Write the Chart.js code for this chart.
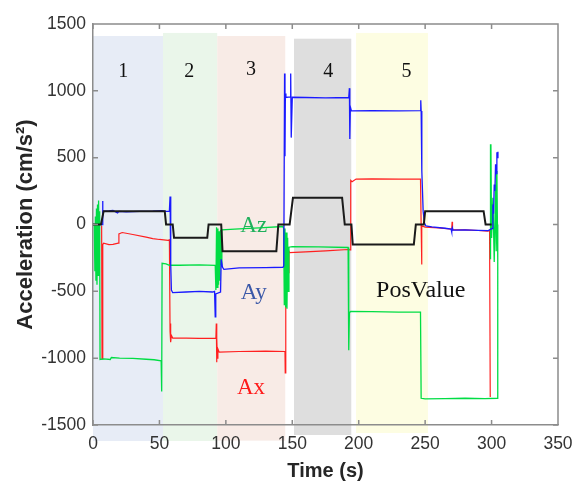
<!DOCTYPE html>
<html>
<head>
<meta charset="utf-8">
<script src="https://cdn.jsdelivr.net/npm/chart.js@4.4.1/dist/chart.umd.min.js"></script>
<style>
  html, body { margin: 0; padding: 0; background: #fff; }
  #wrap { width: 574px; height: 484px; }
</style>
</head>
<body>
<div id="wrap"><canvas id="accChart" width="574" height="484"></canvas></div>
<script>
// --- data: [time (s), acceleration (cm/s^2)] ---
const posTrace = [[0,0],[6,0],[8,100],[54,100],[55,0],[60,0],[61,-100],[86,-100],[87,0],[96.5,0],[97.5,-200],
  [138,-200],[139.5,0],[148,0],[150.5,200],[187.5,200],[189.5,0],[194.5,0],[195.5,-150],[241.5,-150],[243,0],
  [249,0],[250,100],[294,100],[295.5,0],[300,0]];

const ayTrace = [[6,0],[6.8,0],[7.2,175],[7.5,60],[8,100],[12,102],[15,106],[18.5,86],[19.5,98],[25,95],[35,98],
  [45,100],[52,104],[55,98],[57.5,100],[58,210],[58.5,-300],[59,-490],[60,-510],[70,-505],[80,-500],[90,-505],
  [91.5,-500],[92,-690],[92.4,-520],[96,-505],[96.5,-260],[97.5,-320],[98.5,-335],[110,-325],[130,-322],[143,-320],
  [143.6,-310],[144.2,1130],[144.5,510],[144.8,980],[145.2,950],[148.5,955],[148.8,1130],[149.2,650],[150,952],
  [160,950],[175,948],[192.5,950],[193,1020],[193.3,640],[193.7,880],[194.5,850],[210,852],[230,850],[246.3,852],
  [246.7,930],[247,850],[247.5,400],[248.5,100],[249.5,10],[250.5,-10],[255,-18],[265,-28],[269.5,-34],[270,-55],
  [270.5,-25],[271,-42],[280,-40],[290,-44],[297.5,-46],[300.5,-30],[301,150],[301.5,80],[302,300],[302.5,250],
  [303,450],[303.5,380],[304,540],[304.5,500],[304.8,545]];

const azTrace = [[0,0],[1,0],[1.4,-350],[1.8,60],[2.2,-420],[2.6,120],[3,-450],[3.4,150],[3.8,-380],[4.2,180],
  [4.6,-300],[5,100],[5.3,-1010],[8,-1005],[13,-1010],[13.8,-995],[20,-1000],[30,-1002],[40,-1008],[46,-1012],
  [51.3,-1020],[51.7,-1250],[52,-290],[55,-295],[57.5,-305],[65,-305],[80,-302],[92,-305],[92.5,-490],[93,-20],
  [93.5,-470],[94,-30],[94.5,-450],[95,-50],[95.5,-420],[96,-40],[96.5,-300],[97,-40],[110,-32],[125,-25],
  [143,-15],[143.5,-30],[144,-600],[144.5,-30],[145,-620],[145.5,-60],[146,-630],[146.5,-100],[147,-500],
  [147.5,-170],[150,-165],[170,-168],[192,-172],[192.5,-940],[193,-660],[194,-650],[210,-652],[230,-655],
  [246.5,-655],[247,-1300],[250,-1305],[265,-1303],[280,-1300],[295,-1302],[304.6,-1300],[304.8,0],[304.5,-250],
  [304,400],[303.5,-200],[303,300],[302,-280],[301,200],[300,-100],[299.5,600],[299.2,-260]];

const axTrace = [[6.5,-10],[6.8,-1005],[7.2,-1000],[7.5,-150],[8,-140],[12,-150],[15,-148],[19,-140],[19.5,-70],
  [22,-60],[30,-75],[40,-95],[45,-105],[50,-112],[56.5,-118],[57.5,-115],[58,-800],[58.3,-740],[58.6,-880],
  [59,-830],[60,-850],[70,-850],[80,-852],[92.5,-850],[92.8,-740],[93,-1030],[93.3,-850],[93.6,-1000],[94,-930],
  [95,-955],[110,-950],[130,-948],[144.5,-950],[144.7,-1110],[145,-950],[145.2,-220],[146,-280],[146.5,-180],
  [147,-360],[147.5,-200],[148,-210],[160,-205],[175,-198],[192,-187],[193.5,-190],[194,330],[195,320],[198,340],
  [210,342],[230,340],[246.5,340],[247,-10],[247.3,-300],[247.6,-10],[250,-20],[260,-25],[270,-35],[270.3,20],
  [270.6,-40],[280,-40],[290,-45],[297,-50],[298.5,-45],[299,-1290]];

// shaded test phases (time span and vertical extent, in axis units)
const phaseNames  = ['1', '2', '3', '4', '5'];
const phaseStart  = [0, 52.7, 93.5, 151.3, 198];
const phaseEnd    = [52.7, 93.5, 144.7, 194.4, 252.1];
const phaseTop    = [1410, 1433, 1410, 1390, 1433];
const phaseBottom = [-1620, -1620, -1617, -1575, -1560];
const phaseFill   = ['#e7ecf6', '#eaf6ea', '#f8ebe6', '#dedede', '#fdfde2'];

// where the phase numbers and curve names sit (axis units)
const phaseLabelAt = [[22.8, 1141], [72.5, 1141], [118.9, 1160], [177, 1141], [236, 1141]];
const curveNotes = [
  { text: 'Az', at: [121, -54], color: '#20b05c', size: 23 },
  { text: 'Ay', at: [121, -557], color: '#3b58a8', size: 23 },
  { text: 'Ax', at: [118.9, -1268], color: '#ff1a1a', size: 23 },
  { text: 'PosValue', at: [246.7, -540], color: '#111111', size: 24 }
];

const AXIS_GREY = '#8c8c8c';
const LABEL_COLOR = '#333333';
const SANS = '"Liberation Sans", Arial, sans-serif';
const SERIF = '"Liberation Serif", "Times New Roman", serif';

function toPoints(trace) {
  return trace.map(p => ({ x: p[0], y: p[1] }));
}

const framePlugin = {
  id: 'frame',
  beforeDraw(chart) {
    const { ctx, scales: { x, y } } = chart;
    ctx.save();
    phaseNames.forEach((name, i) => {
      const left = x.getPixelForValue(phaseStart[i]);
      const right = x.getPixelForValue(phaseEnd[i]);
      const top = y.getPixelForValue(phaseTop[i]);
      const bottom = y.getPixelForValue(phaseBottom[i]);
      ctx.fillStyle = phaseFill[i];
      ctx.fillRect(left, top, right - left, bottom - top);
    });
    ctx.restore();
  },
  afterDraw(chart) {
    const { ctx, chartArea: a, scales: { x, y } } = chart;
    ctx.save();

    // box on, MATLAB style inward ticks
    ctx.strokeStyle = AXIS_GREY;
    ctx.lineWidth = 1.5;
    ctx.beginPath();
    ctx.moveTo(a.left, a.top); ctx.lineTo(a.right, a.top); ctx.lineTo(a.right, a.bottom);
    x.ticks.forEach(t => {
      const px = x.getPixelForValue(t.value);
      ctx.moveTo(px, a.bottom); ctx.lineTo(px, a.bottom - 5);
      ctx.moveTo(px, a.top); ctx.lineTo(px, a.top + 5);
    });
    y.ticks.forEach(t => {
      const py = y.getPixelForValue(t.value);
      ctx.moveTo(a.left, py); ctx.lineTo(a.left + 5, py);
      ctx.moveTo(a.right, py); ctx.lineTo(a.right - 5, py);
    });
    ctx.stroke();

    // phase numbers
    ctx.fillStyle = '#111';
    ctx.font = '20px ' + SERIF;
    ctx.textAlign = 'center';
    ctx.textBaseline = 'middle';
    phaseNames.forEach((name, i) => {
      ctx.fillText(name, x.getPixelForValue(phaseLabelAt[i][0]), y.getPixelForValue(phaseLabelAt[i][1]));
    });

    // curve names
    ctx.textBaseline = 'alphabetic';
    curveNotes.forEach(n => {
      ctx.fillStyle = n.color;
      ctx.font = n.size + 'px ' + SERIF;
      ctx.fillText(n.text, x.getPixelForValue(n.at[0]), y.getPixelForValue(n.at[1]));
    });

    // axis titles
    ctx.fillStyle = '#262626';
    ctx.textBaseline = 'middle';
    ctx.font = 'bold 20px ' + SANS;
    ctx.fillText('Time (s)', (a.left + a.right) / 2, 471);
    ctx.translate(26, (a.top + a.bottom) / 2);
    ctx.rotate(-Math.PI / 2);
    ctx.font = 'bold 22px ' + SANS;
    ctx.fillText('Acceleration (cm/s\u00B2)', 0, 0);
    ctx.restore();
  }
};

const tickFont = { family: SANS, size: 17.5 };
const plainTick = v => String(v);

new Chart(document.getElementById('accChart'), {
  type: 'line',
  data: {
    datasets: [
      { label: 'PosValue', data: toPoints(posTrace), borderColor: '#1a1a1a', borderWidth: 2 },
      { label: 'Ay', data: toPoints(ayTrace), borderColor: '#1a1aff', borderWidth: 1.3 },
      { label: 'Az', data: toPoints(azTrace), borderColor: '#00dd44', borderWidth: 1.3 },
      { label: 'Ax', data: toPoints(axTrace), borderColor: '#ff2020', borderWidth: 1.2 }
    ]
  },
  options: {
    responsive: false,
    animation: false,
    layout: { padding: { left: 0, top: 24, right: 16, bottom: 0 } },
    elements: { point: { radius: 0 }, line: { tension: 0 } },
    plugins: { legend: { display: false }, tooltip: { enabled: false } },
    scales: {
      x: {
        type: 'linear', min: 0, max: 350,
        ticks: { stepSize: 50, padding: 9, color: LABEL_COLOR, font: tickFont, maxRotation: 0, callback: plainTick },
        grid: { drawOnChartArea: false, drawTicks: false },
        border: { color: AXIS_GREY, width: 1.5 },
        afterFit(scale) { scale.height = 59; scale.paddingLeft = 0; scale.paddingRight = 0; }
      },
      y: {
        type: 'linear', min: -1500, max: 1500,
        ticks: { stepSize: 500, padding: 7, color: LABEL_COLOR, font: tickFont, callback: plainTick },
        grid: { drawOnChartArea: false, drawTicks: false },
        border: { color: AXIS_GREY, width: 1.5 },
        afterFit(scale) { scale.width = 93; scale.paddingTop = 0; scale.paddingBottom = 0; }
      }
    }
  },
  plugins: [framePlugin]
});
</script>
</body>
</html>
